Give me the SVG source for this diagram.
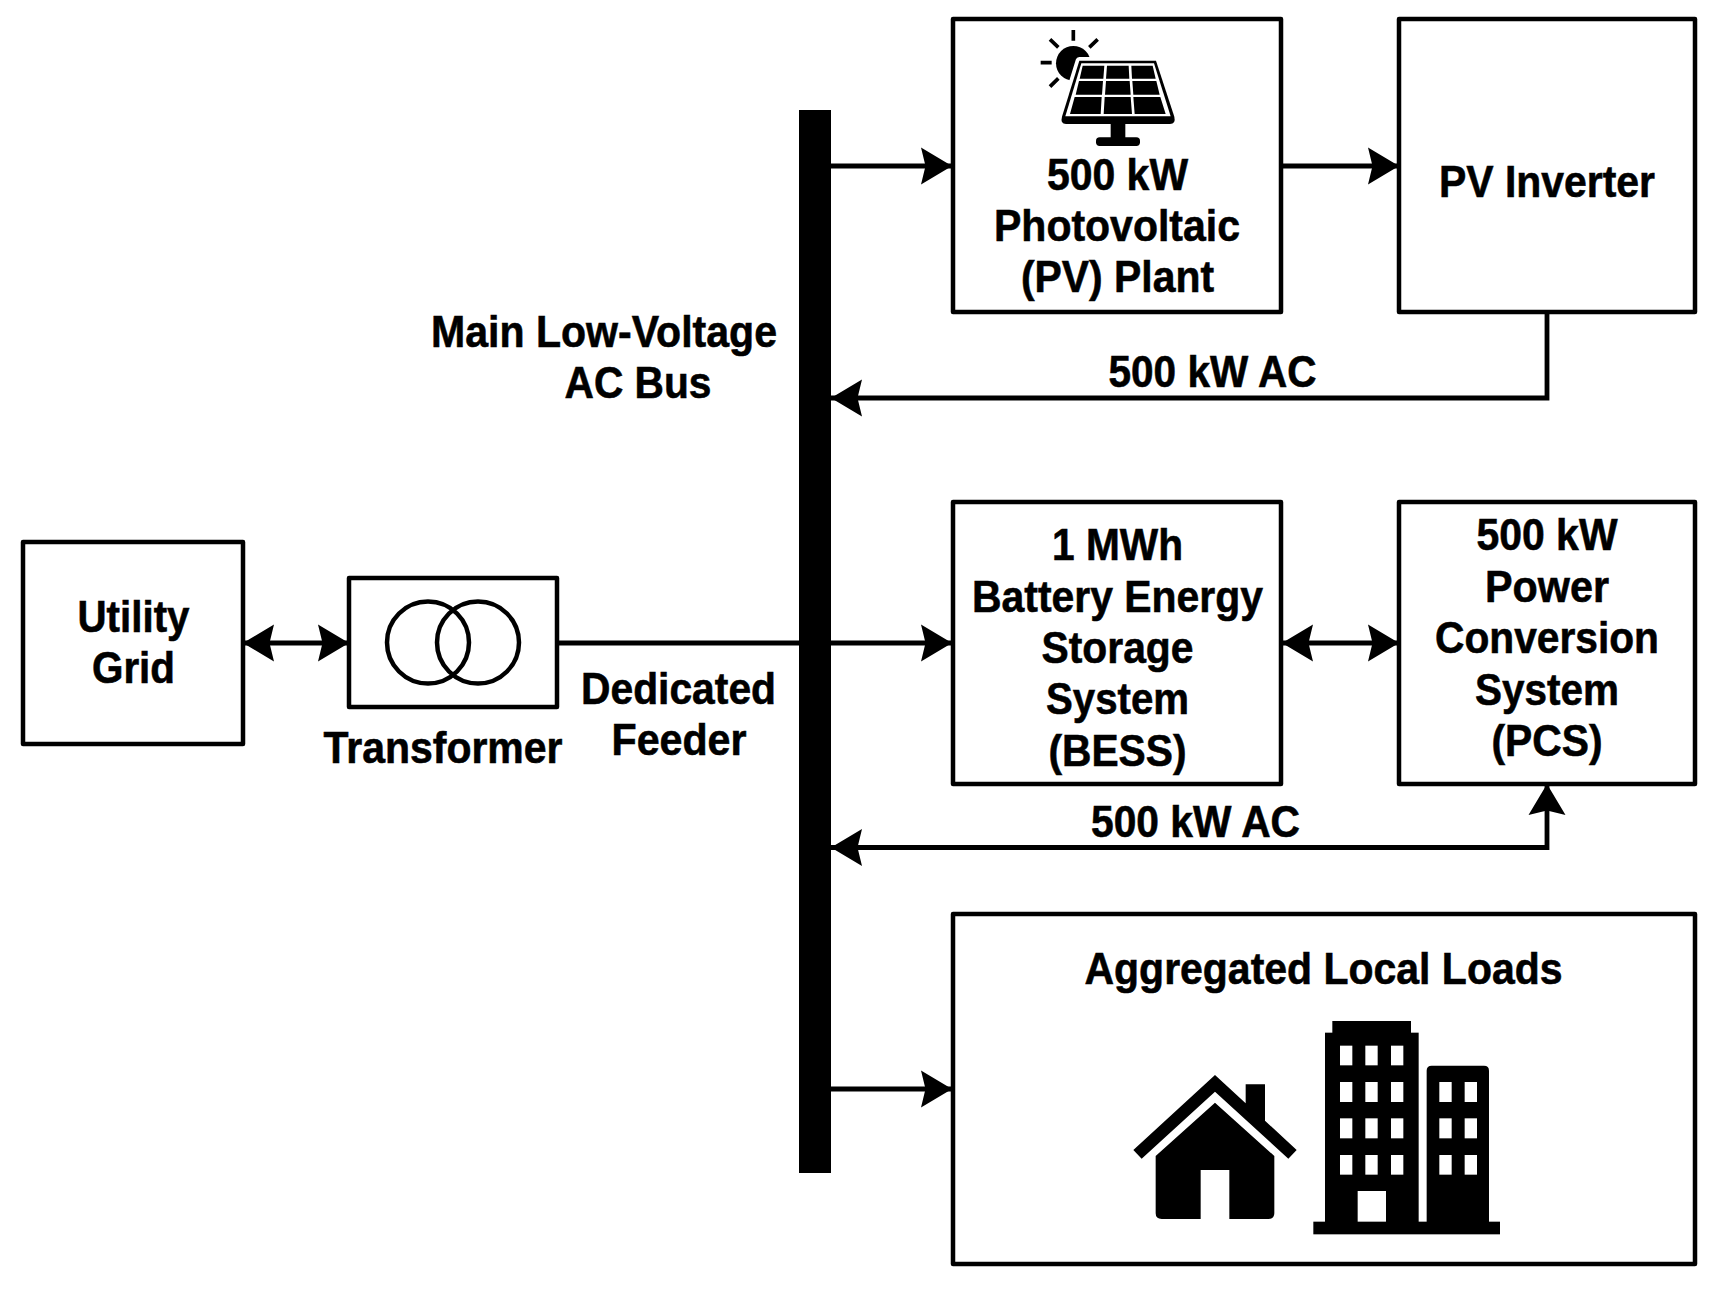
<svg xmlns="http://www.w3.org/2000/svg" width="1716" height="1290" viewBox="0 0 1716 1290">
<style>
.box{fill:#fff;stroke:#000;stroke-width:4.5;stroke-linejoin:round}
.wire{fill:none;stroke:#000;stroke-width:4.8}
text{font-family:"Liberation Sans",Arial,sans-serif;font-weight:bold;font-size:45px;text-anchor:middle;fill:#000;stroke:#000;stroke-width:0.6}
.w{fill:#fff}
</style>
<defs>
<marker id="ah" markerUnits="userSpaceOnUse" markerWidth="34" markerHeight="42" viewBox="0 -21 34 42" refX="31" refY="0" orient="auto-start-reverse">
<path d="M0,-18.500 L31,0 L0,18.500 L4.500,0 Z" fill="#000"/>
</marker>
</defs>
<rect width="1716" height="1290" fill="#fff"/>
<g id="connectors">
<path class="wire" d="M831,166H952" marker-end="url(#ah)"/>
<path class="wire" d="M1281,166H1399" marker-end="url(#ah)"/>
<path class="wire" d="M1547,312V398H831" marker-end="url(#ah)"/>
<path class="wire" d="M557,643H799"/>
<path class="wire" d="M831,643H952" marker-end="url(#ah)"/>
<path class="wire" d="M243,643H349" marker-start="url(#ah)" marker-end="url(#ah)"/>
<path class="wire" d="M1282,643H1399" marker-start="url(#ah)" marker-end="url(#ah)"/>
<path class="wire" d="M831,847.500H1547V784" marker-start="url(#ah)" marker-end="url(#ah)"/>
<path class="wire" d="M831,1089H952" marker-end="url(#ah)"/>
</g>
<g id="bus">
<rect x="799" y="110" width="32" height="1063" fill="#000"/>
<text x="604" y="346.500" textLength="346" lengthAdjust="spacingAndGlyphs">Main Low-Voltage</text>
<text x="638" y="398" textLength="147" lengthAdjust="spacingAndGlyphs">AC Bus</text>
</g>
<g id="utility-grid">
<rect class="box" x="23" y="542" width="220" height="202"/>
<text x="133.500" y="632" textLength="112" lengthAdjust="spacingAndGlyphs">Utility</text>
<text x="133.500" y="682.500" textLength="83" lengthAdjust="spacingAndGlyphs">Grid</text>
</g>
<g id="transformer">
<rect class="box" x="349" y="578" width="208" height="129"/>
<circle cx="428" cy="642.500" r="41" fill="none" stroke="#000" stroke-width="4.5"/>
<circle cx="478" cy="642.500" r="41" fill="none" stroke="#000" stroke-width="4.5"/>
<text x="443" y="762.500" textLength="239" lengthAdjust="spacingAndGlyphs">Transformer</text>
</g>
<g id="feeder-label">
<text x="678.500" y="703.500" textLength="195" lengthAdjust="spacingAndGlyphs">Dedicated</text>
<text x="679" y="754.500" textLength="135" lengthAdjust="spacingAndGlyphs">Feeder</text>
</g>
<g id="pv-plant">
<rect class="box" x="953" y="19" width="328" height="293"/>
<g transform="translate(940,0) scale(0.33333)">
<g stroke="#000" stroke-width="11" fill="none">
<path d="M400,90V122M330,118L355,142M473,118L448,142M302,188H335M330,260L355,235"/>
</g>
<circle cx="400" cy="190" r="52" fill="#000"/>
<path d="M418,182H648L703,350Q708,372 690,372H378Q360,372 366,350Z" fill="#000" stroke="#fff" stroke-width="22" stroke-linejoin="round"/>
<path d="M418,182H648L703,350Q708,372 690,372H378Q360,372 366,350Z" fill="#000"/>
<path d="M424,190H642L692,349H376Z" fill="#fff"/>
<path d="M428,197H493L490,236H419ZM501,197H566L568,236H498ZM574,197H638L647,236H576ZM417,243H489L486,284H407ZM498,243H569L572,284H495ZM577,243H649L659,284H580ZM404,291H485L482,342H390ZM494,291H572L576,342H491ZM580,291H661L677,342H584Z" fill="#000"/>
<rect x="512" y="372" width="44" height="44" fill="#000"/>
<rect x="468" y="412" width="132" height="26" rx="11" fill="#000"/>
</g>
<text x="1117.500" y="190" textLength="141" lengthAdjust="spacingAndGlyphs">500 kW</text>
<text x="1117" y="241" textLength="246" lengthAdjust="spacingAndGlyphs">Photovoltaic</text>
<text x="1117.500" y="292" textLength="193" lengthAdjust="spacingAndGlyphs">(PV) Plant</text>
</g>
<g id="pv-inverter">
<rect class="box" x="1399" y="19" width="296" height="293"/>
<text x="1547" y="196.500" textLength="216" lengthAdjust="spacingAndGlyphs">PV Inverter</text>
</g>
<text x="1212.500" y="387" textLength="208" lengthAdjust="spacingAndGlyphs">500 kW AC</text>
<g id="bess">
<rect class="box" x="953" y="502" width="328" height="282"/>
<text x="1117.500" y="560" textLength="131" lengthAdjust="spacingAndGlyphs">1 MWh</text>
<text x="1117.500" y="611.500" textLength="291" lengthAdjust="spacingAndGlyphs">Battery Energy</text>
<text x="1117.500" y="663" textLength="152" lengthAdjust="spacingAndGlyphs">Storage</text>
<text x="1117.500" y="714" textLength="143" lengthAdjust="spacingAndGlyphs">System</text>
<text x="1117.500" y="765.500" textLength="138" lengthAdjust="spacingAndGlyphs">(BESS)</text>
</g>
<g id="pcs">
<rect class="box" x="1399" y="502" width="296" height="282"/>
<text x="1547" y="550" textLength="141" lengthAdjust="spacingAndGlyphs">500 kW</text>
<text x="1547" y="601.500" textLength="124" lengthAdjust="spacingAndGlyphs">Power</text>
<text x="1547" y="653" textLength="224" lengthAdjust="spacingAndGlyphs">Conversion</text>
<text x="1547" y="704.500" textLength="144" lengthAdjust="spacingAndGlyphs">System</text>
<text x="1547" y="756" textLength="111" lengthAdjust="spacingAndGlyphs">(PCS)</text>
</g>
<text x="1195.500" y="836.500" textLength="209" lengthAdjust="spacingAndGlyphs">500 kW AC</text>
<g id="local-loads">
<rect class="box" x="953" y="914" width="742" height="350"/>
<text x="1323.500" y="983.500" textLength="478" lengthAdjust="spacingAndGlyphs">Aggregated Local Loads</text>
<g transform="translate(1100,1000) scale(0.33333)">
<path d="M345,225L437,310V253H495V362L590,450L565,476L345,275L125,476L100,450Z" fill="#000"/>
<path d="M345,308L523,468V640Q523,657 505,657H388V510H302V657H185Q167,657 167,640V468Z" fill="#000"/>
<rect x="640" y="665" width="560" height="38" fill="#000"/>
<rect x="675" y="98" width="281" height="570" fill="#000"/>
<rect x="697" y="63" width="236" height="40" fill="#000"/>
<path d="M980,668V212Q980,197 995,197H1152Q1167,197 1167,212V668Z" fill="#000"/>
<g class="w">
<rect x="720" y="137" width="37" height="59"/><rect x="796" y="137" width="37" height="59"/><rect x="873" y="137" width="37" height="59"/>
<rect x="720" y="246" width="37" height="60"/><rect x="796" y="246" width="37" height="60"/><rect x="873" y="246" width="37" height="60"/>
<rect x="720" y="355" width="37" height="60"/><rect x="796" y="355" width="37" height="60"/><rect x="873" y="355" width="37" height="60"/>
<rect x="720" y="465" width="37" height="59"/><rect x="796" y="465" width="37" height="59"/><rect x="873" y="465" width="37" height="59"/>
<rect x="773" y="573" width="85" height="92"/>
<rect x="1018" y="246" width="37" height="60"/><rect x="1094" y="246" width="37" height="60"/>
<rect x="1018" y="355" width="37" height="60"/><rect x="1094" y="355" width="37" height="60"/>
<rect x="1018" y="465" width="37" height="59"/><rect x="1094" y="465" width="37" height="59"/>
</g>
</g>
</g>
</svg>
